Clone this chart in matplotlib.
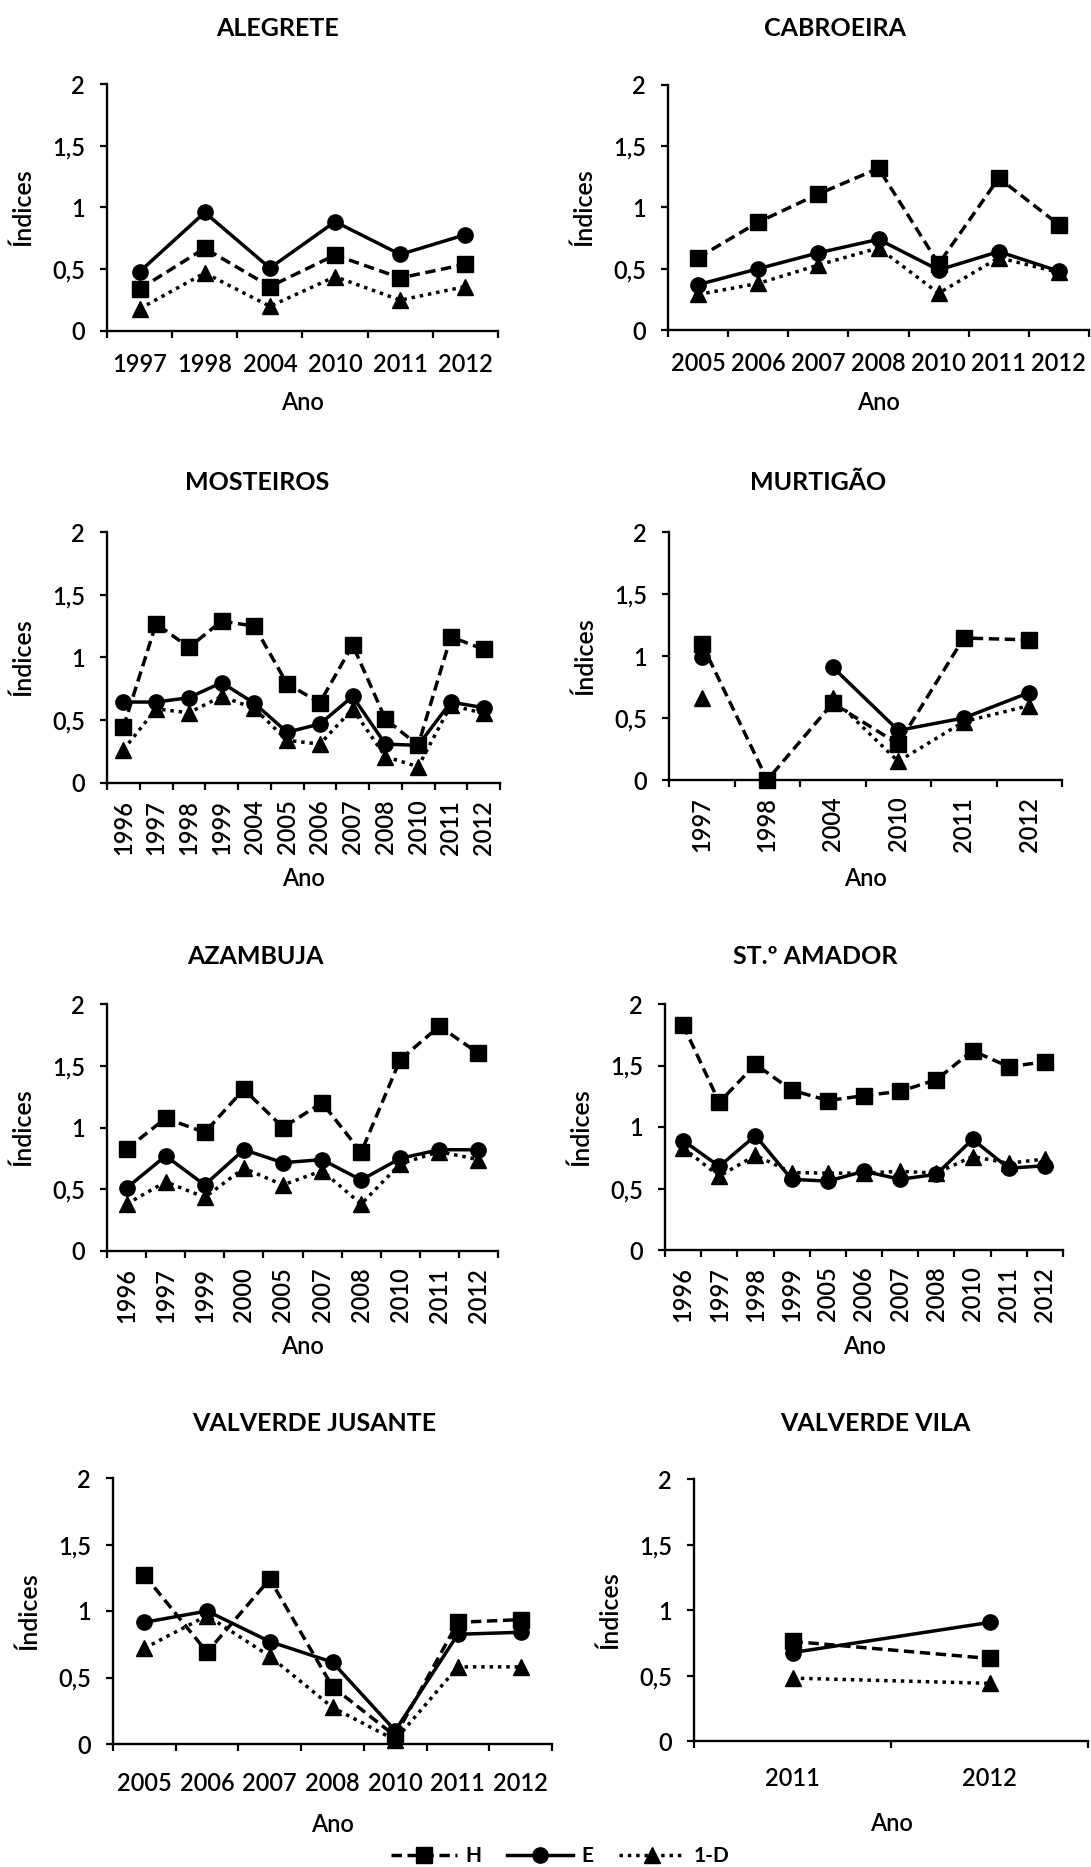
import matplotlib.pyplot as plt
import numpy as np

plt.rcParams['font.family'] = ['Lato', 'DejaVu Sans']

W, H = 1091, 1867
nan = np.nan

# ---- data (H = Shannon, E = equitabilidade, 1-D = Simpson) ----
alegrete_anos = ['1997', '1998', '2004', '2010', '2011', '2012']
alegrete_h = [0.34, 0.67, 0.36, 0.615, 0.43, 0.54]
alegrete_e = [0.48, 0.96, 0.51, 0.885, 0.62, 0.78]
alegrete_d = [0.18, 0.47, 0.20, 0.44, 0.25, 0.36]

cabroeira_anos = ['2005', '2006', '2007', '2008', '2010', '2011', '2012']
cabroeira_h = [0.59, 0.88, 1.11, 1.32, 0.54, 1.24, 0.86]
cabroeira_e = [0.37, 0.50, 0.63, 0.74, 0.49, 0.64, 0.48]
cabroeira_d = [0.29, 0.38, 0.53, 0.67, 0.30, 0.59, 0.47]

mosteiros_anos = ['1996', '1997', '1998', '1999', '2004', '2005', '2006',
                  '2007', '2008', '2010', '2011', '2012']
mosteiros_h = [0.445, 1.27, 1.08, 1.29, 1.25, 0.79, 0.64, 1.10, 0.51, 0.30, 1.165, 1.065]
mosteiros_e = [0.645, 0.645, 0.68, 0.80, 0.635, 0.405, 0.47, 0.69, 0.31, 0.30, 0.645, 0.60]
mosteiros_d = [0.265, 0.59, 0.56, 0.69, 0.595, 0.34, 0.31, 0.59, 0.21, 0.13, 0.62, 0.555]

murtigao_anos = ['1997', '1998', '2004', '2010', '2011', '2012']
murtigao_h = [1.10, 0.0, 0.62, 0.29, 1.145, 1.13]
murtigao_e = [0.99, nan, 0.91, 0.40, 0.50, 0.705]
murtigao_d = [0.665, nan, 0.66, 0.15, 0.47, 0.60]

azambuja_anos = ['1996', '1997', '1999', '2000', '2005', '2007', '2008',
                 '2010', '2011', '2012']
azambuja_h = [0.825, 1.075, 0.96, 1.31, 1.0, 1.2, 0.80, 1.55, 1.82, 1.60]
azambuja_e = [0.51, 0.77, 0.535, 0.82, 0.715, 0.74, 0.575, 0.75, 0.82, 0.82]
azambuja_d = [0.38, 0.56, 0.435, 0.67, 0.535, 0.65, 0.38, 0.705, 0.805, 0.74]

amador_anos = ['1996', '1997', '1998', '1999', '2005', '2006', '2007',
               '2008', '2010', '2011', '2012']
amador_h = [1.83, 1.20, 1.51, 1.30, 1.215, 1.255, 1.29, 1.385, 1.62, 1.49, 1.53]
amador_e = [0.89, 0.68, 0.93, 0.575, 0.56, 0.64, 0.575, 0.615, 0.90, 0.665, 0.685]
amador_d = [0.83, 0.60, 0.77, 0.63, 0.625, 0.625, 0.64, 0.625, 0.76, 0.705, 0.74]

jusante_anos = ['2005', '2006', '2007', '2008', '2010', '2011', '2012']
jusante_h = [1.27, 0.69, 1.24, 0.43, 0.06, 0.915, 0.935]
jusante_e = [0.915, 1.0, 0.77, 0.615, 0.10, 0.825, 0.84]
jusante_d = [0.72, 0.965, 0.66, 0.275, 0.03, 0.58, 0.58]

vila_anos = ['2011', '2012']
vila_h = [0.76, 0.63]
vila_e = [0.675, 0.905]
vila_d = [0.48, 0.44]

y_ticks = [0, 0.5, 1, 1.5, 2]
y_labels = ['0', '0,5', '1', '1,5', '2']

# layout in pixels: left, top, right, bottom(zero line), title x, title y,
# offset of "Ano", tick label pad (pt), rotated labels
panels = [
    ('ALEGRETE', alegrete_anos, alegrete_h, alegrete_e, alegrete_d,
     (107, 84, 498, 331, 278, 28, 72, 16), False),
    ('CABROEIRA', cabroeira_anos, cabroeira_h, cabroeira_e, cabroeira_d,
     (668, 85, 1089, 330, 835, 28, 72, 16), False),
    ('MOSTEIROS', mosteiros_anos, mosteiros_h, mosteiros_e, mosteiros_d,
     (107, 532, 500, 783, 257, 483, 95, 12), True),
    ('MURTIGÃO', murtigao_anos, murtigao_h, murtigao_e, murtigao_d,
     (669, 532, 1062, 780, 818, 483, 98, 12), True),
    ('AZAMBUJA', azambuja_anos, azambuja_h, azambuja_e, azambuja_d,
     (107, 1004, 498, 1251, 255, 957, 95, 12), True),
    ('ST.º AMADOR', amador_anos, amador_h, amador_e, amador_d,
     (665, 1004, 1063, 1250, 815, 957, 96, 12), True),
    ('VALVERDE JUSANTE', jusante_anos, jusante_h, jusante_e, jusante_d,
     (113, 1478, 552, 1744, 314, 1423, 80, 20), False),
    ('VALVERDE VILA', vila_anos, vila_h, vila_e, vila_d,
     (694, 1479, 1088, 1741, 875, 1423, 82, 19), False),
]

LW = 2.5
styles = [
    dict(ls=(0, (3, 1.6)), marker='s', ms=11),
    dict(ls='-', marker='o', ms=11),
    dict(ls=(0, (1, 1.4)), marker='^', ms=11),
]

fig = plt.figure(figsize=(W / 100, H / 100), dpi=100)

for title, anos, h, e, d, box, rot in panels:
    left, top, right, bottom, tx, ty, xl, pad = box
    ax = fig.add_axes([left / W, 1 - bottom / H, (right - left) / W, (bottom - top) / H])
    x = np.arange(len(anos))
    for serie, st in zip([h, e, d], styles):
        ax.plot(x, serie, color='black', lw=LW, clip_on=False, **st)

    ax.set_xlim(-0.5, len(anos) - 0.5)
    ax.set_ylim(0, 2)
    ax.spines['top'].set_visible(False)
    ax.spines['right'].set_visible(False)
    ax.spines['left'].set_linewidth(1.7)
    ax.spines['bottom'].set_linewidth(1.7)

    ax.set_yticks(y_ticks)
    ax.set_yticklabels(y_labels, fontsize=17, fontweight='semibold')
    ax.tick_params(axis='y', direction='out', length=5, width=1.6, pad=11)

    ax.set_xticks(x)
    ax.set_xticks(np.arange(len(anos) + 1) - 0.5, minor=True)
    ax.set_xticklabels(anos, fontsize=17, fontweight='semibold', rotation=90 if rot else 0)
    ax.tick_params(axis='x', which='major', length=0, pad=pad)
    ax.tick_params(axis='x', which='minor', direction='out', length=5, width=1.6)

    fig.text(tx / W, 1 - ty / H, title, fontsize=18, fontweight='bold', ha='center', va='center')
    fig.text((left + right) / 2 / W, 1 - (bottom + xl) / H, 'Ano',
             fontsize=17, fontweight='semibold', ha='center', va='center')
    fig.text((left - 84) / W, 1 - (top + bottom) / 2 / H, 'Índices',
             fontsize=18, fontweight='semibold', ha='center', va='center', rotation=90)

handles = [plt.Line2D([], [], color='black', lw=LW, **st) for st in styles]
fig.legend(handles, ['H', 'E', '1-D'], loc='center', bbox_to_anchor=(560 / W, 1 - 1856 / H),
           ncol=3, frameon=False, handlelength=3.2, handletextpad=0.4, columnspacing=1.2,
           prop={'size': 15, 'weight': 'bold'})

fig.savefig('out.png', dpi=100, facecolor='white')
